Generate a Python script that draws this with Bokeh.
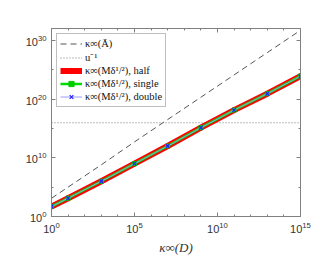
import numpy as np
from bokeh.plotting import figure
from bokeh.models import (LogAxis, FixedTicker, Legend, LegendItem,
                          CustomJSTickFormatter)
from bokeh.embed import file_html
from bokeh.resources import INLINE

# ---- data ----
kappa_D = [1e0, 1e1, 1e3, 1e5, 1e7, 1e9, 1e11, 1e13, 1e15]
kappa_A = [1.26e3, 1.0e5, 6.3e8, 5.0e12, 3.2e16, 2.0e20, 1.26e24, 7.9e27, 5.0e31]
kappa_M_half = [5.0e1, 1.3e3, 1.0e6, 1.0e9, 1.0e12, 1.3e15, 1.3e18, 8.0e20, 8.0e23]
kappa_M_single = [5.0e1, 1.3e3, 1.0e6, 1.0e9, 1.0e12, 1.3e15, 1.3e18, 8.0e20, 8.0e23]
kappa_M_double = [5.0e1, 1.3e3, 1.0e6, 1.0e9, 1.0e12, 1.3e15, 1.3e18, 8.0e20, 8.0e23]
u_inv = 2.0 ** 53
x_ticks = [1e0, 1e5, 1e10, 1e15]
x_minor = [10.0 ** k for k in range(0, 16)]
y_ticks = [1e0, 1e10, 1e20, 1e30]
y_minor = [10.0 ** k for k in range(0, 33, 5)]
labels = ["κ∞(Ā)", "u⁻¹", "κ∞(Mδ¹/²), half", "κ∞(Mδ¹/²), single", "κ∞(Mδ¹/²), double"]
x_label = "κ∞(D)"

AX = "#808080"
TXT = "#333333"

p = figure(width=310, height=253, x_axis_type="log", y_axis_type="log",
           x_range=(1e0, 1e15), y_range=(1e0, 1e32),
           output_backend="svg", toolbar_location=None,
           min_border_left=51, min_border_right=18, min_border_top=28,
           min_border_bottom=37)
p.frame_width = 249
p.frame_height = 188
p.grid.visible = False
p.outline_line_color = None
p.background_fill_color = "white"
p.border_fill_color = "white"


def style(ax, ticks, minor, show):
    ax.ticker = FixedTicker(ticks=ticks, minor_ticks=minor)
    ax.axis_line_color = AX
    ax.major_tick_line_color = AX
    ax.minor_tick_line_color = AX
    ax.major_tick_in = 4
    ax.major_tick_out = 0
    ax.minor_tick_in = 2
    ax.minor_tick_out = 0
    ax.major_label_text_font = "Liberation Sans"
    ax.major_label_text_font_size = "11px"
    ax.major_label_text_color = TXT
    if not show:
        ax.formatter = CustomJSTickFormatter(code="return ''")
        ax.major_label_standoff = 0


style(p.xaxis[0], x_ticks, x_minor, True)
style(p.yaxis[0], y_ticks, y_minor, True)
p.xaxis[0].major_label_standoff = 5
p.yaxis[0].major_label_standoff = 5
p.xaxis[0].axis_label = x_label
p.xaxis[0].axis_label_text_font = "Liberation Serif"
p.xaxis[0].axis_label_text_font_style = "italic"
p.xaxis[0].axis_label_text_font_size = "13px"
p.xaxis[0].axis_label_text_color = TXT
p.xaxis[0].axis_label_standoff = 4
top = LogAxis()
right = LogAxis()
style(top, x_ticks, x_minor, False)
style(right, y_ticks, y_minor, False)
p.add_layout(top, "above")
p.add_layout(right, "right")

rA = p.line(kappa_D, kappa_A, line_color="#555555", line_dash="6 4", line_width=1)
ru = p.line([kappa_D[0], kappa_D[-1]], [u_inv, u_inv], line_color="#777777",
            line_dash="1 2", line_width=1)
rh = p.line(kappa_D, kappa_M_half, line_color="#ff0000", line_width=6)
rhm = p.scatter(kappa_D, kappa_M_half, marker="circle", size=5, color="#ff0000")
rs = p.line(kappa_D, kappa_M_single, line_color="#00dd00", line_width=2.5)
rsm = p.scatter(kappa_D, kappa_M_single, marker="square", size=4, color="#00cc00")
rd = p.line(kappa_D, kappa_M_double, line_color="#9a9aff", line_width=1)
rdm = p.scatter(kappa_D, kappa_M_double, marker="x", size=5, line_color="#2020ff",
                line_width=1.2)

legend = Legend(items=[
    LegendItem(label=labels[0], renderers=[rA]),
    LegendItem(label=labels[1], renderers=[ru]),
    LegendItem(label=labels[2], renderers=[rh, rhm]),
    LegendItem(label=labels[3], renderers=[rs, rsm]),
    LegendItem(label=labels[4], renderers=[rd, rdm]),
], location="top_left")
legend.margin = 5
legend.padding = 3
legend.spacing = 0
legend.label_standoff = 3
legend.glyph_width = 22
legend.glyph_height = 13
legend.label_height = 13
legend.border_line_color = AX
legend.label_text_font = "Liberation Serif"
legend.label_text_font_size = "10.5px"
legend.label_text_color = "#111111"
p.add_layout(legend)

open("out.html", "w").write(file_html(p, INLINE))
